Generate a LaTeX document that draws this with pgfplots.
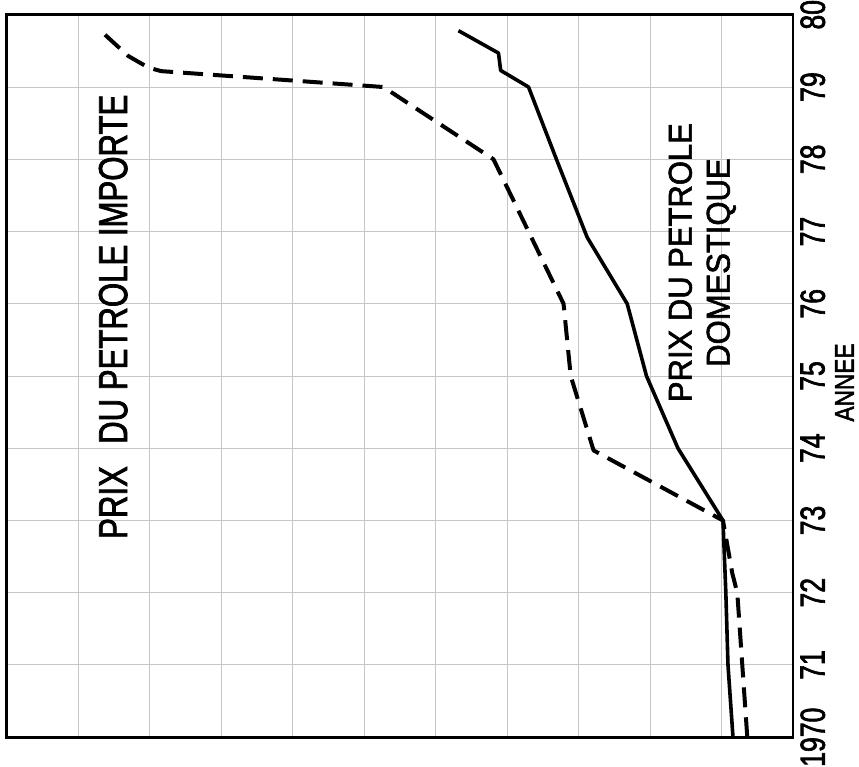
\documentclass[border=0pt]{standalone}
\usepackage{fontspec}
\setmainfont[FakeStretch=0.76,FakeBold=1.8]{Liberation Sans}
\newfontfamily\mainlab[FakeStretch=0.77,FakeBold=1.8]{Liberation Sans}
\newfontfamily\domlab[FakeStretch=0.94,FakeBold=1.8]{Liberation Sans}
\newfontfamily\anneefont[FakeStretch=0.84,FakeBold=1.8]{Liberation Sans}
\usepackage{pgfplots}
\pgfplotsset{compat=1.18}

\begin{document}
\begin{tikzpicture}
\begin{axis}[name=ax,
  scale only axis, width=393.5pt, height=361.5pt,
  x dir=reverse, xmin=0, xmax=11, ymin=1970, ymax=1980,
  xtick={0,1,...,11}, xticklabels={},
  ytick={1970,1971,...,1980},
  yticklabels={1970,71,72,73,74,75,76,77,78,79,80},
  yticklabel pos=right,
  major tick length=0pt,
  grid=major, grid style={gray!45, line width=0.5pt},
  axis line style={line width=1.3pt},
  /pgf/number format/assume math mode=true,
  yticklabel style={rotate=90, anchor=north, inner sep=0pt, font=\fontsize{17.5}{17.5}\selectfont},
  yticklabel shift=3.5pt,
  clip=false,
]
% prix du petrole importe (dashed)
\addplot[black, line width=2pt, dash pattern=on 10pt off 5pt, line join=round] coordinates {
  (0.64,1970) (0.71,1971) (0.78,1972) (0.85,1972.27) (0.98,1973)
  (2.79,1973.97) (3.11,1975) (3.21,1976) (3.70,1977) (4.19,1978)
  (5.73,1979) (8.84,1979.22) (9.02,1979.27) (9.30,1979.43) (9.72,1979.81)
};
% prix du petrole domestique (solid)
\addplot[black, line width=1.8pt, line join=round] coordinates {
  (0.84,1970) (0.91,1971) (0.94,1972) (0.98,1973) (1.61,1974)
  (2.05,1975) (2.32,1976) (2.88,1976.92) (3.31,1978) (3.70,1979)
  (4.09,1979.23) (4.12,1979.47) (4.68,1979.78)
};
\node[rotate=90, inner sep=0pt, font=\mainlab\fontsize{20.25}{20}\selectfont]
  at (axis cs:9.51,1975.82) {PRIX\hspace{0.55em}DU PETROLE IMPORTE};
\node[rotate=90, inner sep=0pt, align=center, font=\domlab\fontsize{16.5}{19}\selectfont]
  at (axis cs:1.27,1976.57) {PRIX DU PETROLE\\DOMESTIQUE};
\node[rotate=90, inner sep=0pt, font=\anneefont\fontsize{13.5}{13.5}\selectfont]
  at (axis cs:-0.72,1974.91) {ANNEE};
\end{axis}
\path ([xshift=-2.5pt,yshift=-14pt]ax.south west) -- ([xshift=33pt,yshift=7pt]ax.north east);
\end{tikzpicture}
\end{document}
